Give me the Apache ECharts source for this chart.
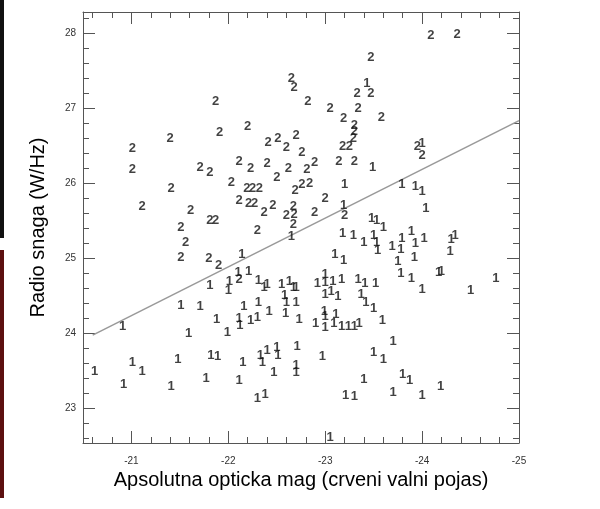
<!DOCTYPE html>
<html>
<head>
<meta charset="utf-8">
<script src="https://cdn.jsdelivr.net/npm/echarts@6/dist/echarts.min.js"></script>
<style>
  html, body { margin: 0; padding: 0; background: #fff; }
  #chart { width: 600px; height: 509px; }
</style>
</head>
<body>
<div id="chart"></div>
<script>
// galaxies marked "2"
const twos = [
  [-21.87, 27.09], [-21.91, 26.67], [-21.40, 26.60], [-21.01, 26.46], [-23.47, 27.68],
  [-22.65, 27.39], [-22.68, 27.27], [-23.47, 27.19], [-23.33, 27.19], [-22.82, 27.09],
  [-23.05, 27.00], [-23.34, 26.99], [-23.19, 26.86], [-23.30, 26.77], [-22.20, 26.76],
  [-23.30, 26.69], [-23.29, 26.60], [-22.41, 26.54], [-22.51, 26.60], [-22.70, 26.63],
  [-22.60, 26.47], [-22.76, 26.40], [-23.18, 26.49], [-23.25, 26.49], [-22.11, 26.29],
  [-22.40, 26.26], [-22.89, 26.27], [-23.14, 26.29], [-23.30, 26.29], [-24.09, 27.97],
  [-24.36, 27.98], [-23.58, 26.88], [-23.95, 26.49], [-24.00, 26.37], [-21.01, 26.18],
  [-21.71, 26.21], [-21.81, 26.14], [-21.41, 25.93], [-21.11, 25.68], [-21.61, 25.63],
  [-21.81, 25.50], [-21.87, 25.50], [-21.51, 25.41], [-21.56, 25.21], [-21.51, 25.01],
  [-21.80, 24.99], [-21.90, 24.90], [-22.23, 26.19], [-22.62, 26.19], [-22.81, 26.18],
  [-22.03, 26.01], [-22.50, 26.07], [-22.19, 25.93], [-22.25, 25.93], [-22.32, 25.93],
  [-22.69, 25.90], [-22.76, 25.98], [-22.84, 25.99], [-22.11, 25.77], [-22.21, 25.73],
  [-22.27, 25.73], [-22.37, 25.61], [-22.46, 25.70], [-22.67, 25.69], [-22.60, 25.57],
  [-22.68, 25.58], [-22.67, 25.44], [-22.89, 25.61], [-23.00, 25.79], [-23.20, 25.56],
  [-22.30, 25.36], [-22.11, 24.71]
];

// galaxies marked "1"
const ones = [
  [-23.43, 27.33], [-24.00, 26.53], [-23.49, 26.21], [-23.20, 25.98], [-23.19, 25.70],
  [-21.81, 24.63], [-22.65, 25.28], [-22.14, 25.05], [-23.18, 25.32], [-23.29, 25.30],
  [-23.40, 25.21], [-23.10, 25.04], [-23.19, 24.96], [-22.01, 24.69], [-22.00, 24.57],
  [-22.10, 24.80], [-22.21, 24.82], [-22.31, 24.70], [-22.37, 24.61], [-22.40, 24.65],
  [-22.55, 24.64], [-22.63, 24.69], [-22.67, 24.60], [-22.70, 24.60], [-22.92, 24.66],
  [-23.00, 24.78], [-23.00, 24.67], [-23.08, 24.69], [-23.17, 24.71], [-23.34, 24.71],
  [-23.41, 24.66], [-22.31, 24.41], [-22.58, 24.50], [-22.60, 24.41], [-22.70, 24.41],
  [-23.00, 24.51], [-23.06, 24.55], [-23.13, 24.48], [-23.37, 24.51], [-23.42, 24.41],
  [-23.79, 25.98], [-23.93, 25.95], [-24.00, 25.89], [-24.04, 25.66], [-23.48, 25.52],
  [-23.53, 25.50], [-23.60, 25.40], [-23.50, 25.30], [-23.53, 25.21], [-23.54, 25.10],
  [-23.69, 25.15], [-23.78, 25.11], [-23.79, 25.26], [-23.89, 25.35], [-23.93, 25.19],
  [-24.02, 25.26], [-23.75, 24.95], [-23.92, 25.01], [-24.34, 25.30], [-24.30, 25.24],
  [-24.29, 25.08], [-23.78, 24.79], [-23.89, 24.73], [-24.17, 24.81], [-24.20, 24.82],
  [-23.52, 24.66], [-24.00, 24.58], [-24.76, 24.73], [-24.50, 24.57], [-21.51, 24.37],
  [-21.71, 24.35], [-21.88, 24.18], [-20.91, 24.08], [-21.59, 23.99], [-21.99, 24.01],
  [-21.01, 23.61], [-21.11, 23.48], [-20.62, 23.48], [-21.48, 23.65], [-21.82, 23.70],
  [-21.89, 23.68], [-20.92, 23.31], [-21.41, 23.29], [-21.77, 23.39], [-22.16, 24.35],
  [-22.59, 24.26], [-23.11, 24.25], [-22.99, 24.28], [-23.00, 24.22], [-22.11, 24.19],
  [-22.12, 24.10], [-22.23, 24.17], [-22.30, 24.21], [-22.42, 24.29], [-22.73, 24.18],
  [-22.90, 24.13], [-23.00, 24.07], [-23.09, 24.13], [-23.17, 24.09], [-23.24, 24.08],
  [-23.30, 24.08], [-23.35, 24.13], [-22.15, 23.60], [-22.33, 23.70], [-22.35, 23.60],
  [-22.40, 23.76], [-22.50, 23.81], [-22.51, 23.70], [-22.71, 23.82], [-22.97, 23.69],
  [-22.47, 23.47], [-22.70, 23.57], [-22.70, 23.47], [-22.11, 23.36], [-23.40, 23.38],
  [-22.30, 23.13], [-22.38, 23.18], [-23.21, 23.17], [-23.30, 23.15], [-23.05, 22.60],
  [-23.50, 24.33], [-23.59, 24.17], [-23.70, 23.88], [-23.50, 23.74], [-23.60, 23.65],
  [-23.80, 23.44], [-23.87, 23.36], [-23.70, 23.21], [-24.00, 23.17], [-24.19, 23.29]
];

// dividing line
const fitLine = [[-20.6, 23.97], [-25, 26.83]];

const xRange = [-25, -20.5];
const yRange = [22.53, 28.28];

const chart = echarts.init(document.getElementById("chart"));

const frameColor = "#555";
const tickStyle = { show: true, inside: true, length: 12, lineStyle: { color: frameColor } };
const minorStyle = { show: true, splitNumber: 5, length: 6, lineStyle: { color: frameColor } };
const intOnly = (v) => (Math.abs(v - Math.round(v)) < 1e-6 ? String(Math.round(v)) : "");

function digitLabel(text) {
  return {
    show: true,
    position: "inside",
    formatter: text,
    fontFamily: "Liberation Sans",
    fontSize: 13,
    fontWeight: "bold",
    color: "#111",
  };
}

const options = {
  animation: false,
  backgroundColor: "#fff",
  grid: { left: 83, right: 81, top: 12, bottom: 66, containLabel: false },
  xAxis: [
    {
      type: "value", min: xRange[0], max: xRange[1], inverse: true, interval: 1,
      position: "bottom",
      axisLine: { lineStyle: { color: frameColor } },
      axisTick: tickStyle, minorTick: minorStyle,
      splitLine: { show: false },
      axisLabel: { formatter: intOnly, fontSize: 10, color: "#333", margin: 13, fontFamily: "Liberation Sans" },
      name: "Apsolutna opticka mag (crveni valni pojas)",
      nameLocation: "middle", nameGap: 23,
      nameTextStyle: { fontSize: 20, color: "#000", fontFamily: "Liberation Sans" },
    },
    {
      type: "value", min: xRange[0], max: xRange[1], inverse: true, interval: 1,
      position: "top",
      axisLine: { lineStyle: { color: frameColor } },
      axisTick: tickStyle, minorTick: minorStyle,
      splitLine: { show: false }, axisLabel: { show: false },
    },
  ],
  yAxis: [
    {
      type: "value", min: yRange[0], max: yRange[1], splitNumber: 5,
      position: "left",
      axisLine: { show: true, lineStyle: { color: frameColor } },
      axisTick: tickStyle, minorTick: minorStyle,
      splitLine: { show: false },
      axisLabel: { formatter: intOnly, fontSize: 10, color: "#333", margin: 7, fontFamily: "Liberation Sans" },
      name: "Radio snaga (W/Hz)",
      nameLocation: "middle", nameGap: 35,
      nameTextStyle: { fontSize: 20, color: "#000", fontFamily: "Liberation Sans" },
    },
    {
      type: "value", min: yRange[0], max: yRange[1], splitNumber: 5,
      position: "right",
      axisLine: { show: true, lineStyle: { color: frameColor } },
      axisTick: tickStyle, minorTick: minorStyle,
      splitLine: { show: false }, axisLabel: { show: false },
    },
  ],
  graphic: [
    // edge of the slide behind the screenshot
    { type: "rect", left: 0, top: 0, shape: { width: 4, height: 238 }, style: { fill: "#111" } },
    { type: "rect", left: 0, top: 250, shape: { width: 4, height: 248 }, style: { fill: "#5c1010" } },
  ],
  series: [
    {
      type: "line",
      data: fitLine,
      symbol: "none",
      lineStyle: { color: "#999", width: 1.5 },
      z: 1,
    },
    {
      type: "scatter",
      data: ones,
      symbolSize: 1,
      itemStyle: { color: "rgba(0,0,0,0)" },
      label: digitLabel("1"),
      z: 2,
    },
    {
      type: "scatter",
      data: twos,
      symbolSize: 1,
      itemStyle: { color: "rgba(0,0,0,0)" },
      label: digitLabel("2"),
      z: 2,
    },
  ],
};

chart.setOption(options);
</script>
</body>
</html>
